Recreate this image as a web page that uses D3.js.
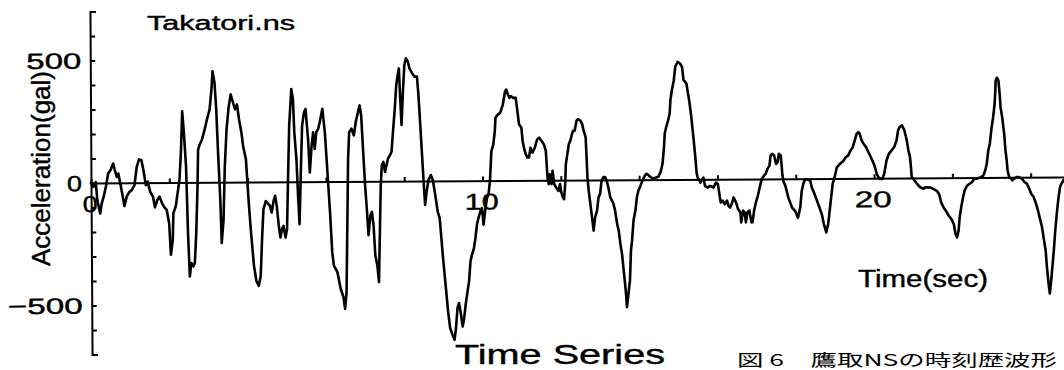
<!DOCTYPE html>
<html><head><meta charset="utf-8">
<script src="https://cdn.jsdelivr.net/npm/d3@7"></script>
<style>html,body{margin:0;padding:0;background:#fff;} svg{display:block;}</style>
</head><body>
<svg id="chart" width="1064" height="370"></svg>
<script>
// ---- data ----
const timeSec = [
0,0.06,0.12,0.16,0.23,0.27,0.32,0.38,0.44,0.50,
0.57,0.61,0.66,0.70,0.74,0.81,0.85,0.91,0.98,1.04,
1.11,1.17,1.23,1.29,1.34,1.40,1.45,1.51,1.58,1.63,
1.69,1.75,1.81,1.87,1.93,1.99,2.03,2.08,2.10,2.16,
2.21,2.26,2.30,2.34,2.38,2.43,2.47,2.51,2.55,2.60,
2.64,2.68,2.72,2.74,2.78,2.84,2.91,2.97,3.04,3.09,
3.12,3.17,3.21,3.25,3.30,3.33,3.38,3.42,3.47,3.53,
3.58,3.64,3.69,3.74,3.79,3.85,3.89,3.96,4.02,4.08,
4.15,4.21,4.27,4.32,4.36,4.40,4.46,4.53,4.57,4.61,
4.66,4.70,4.74,4.79,4.83,4.87,4.91,4.96,5.00,5.03,
5.07,5.13,5.17,5.20,5.25,5.29,5.32,5.36,5.40,5.45,
5.49,5.55,5.59,5.64,5.68,5.72,5.76,5.81,5.85,5.92,
5.98,6.02,6.06,6.10,6.15,6.19,6.28,6.36,6.43,6.47,
6.51,6.57,6.60,6.66,6.72,6.77,6.83,6.87,6.91,6.96,
7.00,7.04,7.08,7.13,7.17,7.21,7.25,7.30,7.34,7.36,
7.40,7.43,7.47,7.51,7.55,7.59,7.64,7.68,7.72,7.77,
7.81,7.85,7.88,7.91,7.94,7.98,8.02,8.06,8.11,8.15,
8.22,8.28,8.34,8.37,8.40,8.45,8.49,8.53,8.57,8.62,
8.68,8.73,8.79,8.85,8.90,8.94,8.98,9.04,9.10,9.15,
9.21,9.26,9.30,9.34,9.38,9.43,9.47,9.51,9.55,9.60,
9.64,9.68,9.72,9.77,9.81,9.85,9.89,9.94,9.98,10.02,
10.06,10.11,10.15,10.19,10.23,10.28,10.32,10.34,10.40,10.46,
10.53,10.59,10.62,10.66,10.70,10.74,10.79,10.86,10.89,10.94,
11.00,11.03,11.07,11.11,11.15,11.19,11.23,11.28,11.34,11.40,
11.45,11.51,11.57,11.62,11.64,11.66,11.69,11.72,11.76,11.79,
11.83,11.88,11.94,11.98,12.00,12.05,12.08,12.11,12.13,12.17,
12.21,12.25,12.29,12.32,12.36,12.41,12.45,12.51,12.55,12.59,
12.64,12.66,12.68,12.71,12.75,12.79,12.83,12.87,12.92,12.96,
13.00,13.04,13.09,13.13,13.17,13.21,13.26,13.30,13.34,13.38,
13.43,13.47,13.51,13.55,13.60,13.64,13.67,13.70,13.75,13.78,
13.81,13.85,13.90,13.94,13.98,14.02,14.07,14.11,14.15,14.19,
14.24,14.28,14.36,14.49,14.55,14.60,14.64,14.66,14.70,14.75,
14.79,14.81,14.85,14.90,14.94,15.00,15.06,15.11,15.15,15.22,
15.26,15.30,15.34,15.39,15.43,15.47,15.50,15.54,15.56,15.64,
15.68,15.75,15.81,15.90,15.96,16.01,16.04,16.08,16.13,16.18,
16.24,16.28,16.32,16.36,16.41,16.47,16.52,16.58,16.60,16.65,
16.69,16.72,16.76,16.81,16.86,16.89,16.93,16.98,17.03,17.09,
17.13,17.20,17.23,17.28,17.33,17.36,17.40,17.45,17.50,17.54,
17.57,17.62,17.66,17.69,17.73,17.81,17.90,17.98,18.05,18.11,
18.15,18.20,18.24,18.31,18.37,18.41,18.48,18.54,18.60,18.66,
18.71,18.77,18.82,18.86,18.90,18.94,18.99,19.05,19.13,19.22,
19.28,19.34,19.40,19.46,19.51,19.56,19.60,19.64,19.69,19.74,
19.80,19.84,19.90,19.96,20.01,20.07,20.11,20.15,20.21,20.26,
20.32,20.38,20.45,20.52,20.58,20.62,20.66,20.72,20.78,20.84,
20.88,20.92,20.95,20.96,21.00,21.09,21.17,21.26,21.30,21.43,
21.52,21.60,21.66,21.71,21.77,21.83,21.90,21.97,22.03,22.07,
22.11,22.15,22.18,22.22,22.27,22.31,22.37,22.43,22.50,22.56,
22.62,22.71,22.79,22.84,22.88,22.92,22.96,23.01,23.05,23.09,
23.11,23.12,23.15,23.19,23.22,23.24,23.28,23.33,23.36,23.39,
23.41,23.45,23.50,23.53,23.58,23.64,23.70,23.77,23.84,23.90,
23.96,24.01,24.07,24.13,24.18,24.24,24.28,24.33,24.37,24.40,
24.44,24.47,24.50,24.54,24.58,24.62,24.67,24.71,24.75,24.79,
24.84
];
const accelGal = [
0,-16,4,-71,-125,-84,-57,-16,38,52,
79,52,24,38,4,-57,-95,-57,-37,-30,
-10,65,95,93,52,-10,4,-37,-57,-101,
-71,-57,-84,-101,-112,-166,-295,-234,-125,-98,
-44,11,120,290,201,65,-207,-384,-329,-343,
-329,-207,-16,133,154,174,215,256,297,378,
453,405,297,120,-71,-248,-152,65,215,310,
358,324,297,317,256,201,147,93,-71,-207,
-343,-404,-424,-384,-234,-112,-78,-91,-98,-125,
-78,-57,-98,-180,-227,-193,-180,-227,-193,-3,
229,378,337,201,93,-71,-173,38,229,283,
297,174,38,147,201,133,201,215,242,297,
201,93,-16,-125,-288,-343,-370,-438,-472,-520,
-452,93,201,215,188,242,283,310,269,106,
-16,-112,-220,-139,-125,-180,-302,-343,-411,-275,
-16,65,79,38,65,93,106,120,201,297,
392,433,460,337,229,365,473,501,487,460,
439,426,426,365,283,133,11,-98,-44,4,
24,4,-57,-125,-152,-234,-316,-424,-533,-601,
-629,-649,-601,-520,-499,-547,-595,-561,-506,-452,
-411,-329,-302,-275,-234,-180,-152,-125,-112,-180,
-125,-71,-57,0,120,147,201,256,269,276,
310,365,371,351,337,344,337,337,297,229,
215,161,127,106,93,93,133,113,133,167,
174,161,147,120,65,11,-16,24,-16,38,
-16,-30,-44,-16,-44,-71,-78,-16,65,106,
147,161,188,201,201,242,249,242,229,201,
174,93,11,-44,-98,-152,-207,-152,-125,-71,
-57,-3,11,11,-3,-30,-71,-84,-98,-125,
-180,-207,-261,-302,-384,-452,-520,-479,-411,-288,
-248,-166,-125,-71,-44,-30,-10,4,18,24,
18,11,4,11,31,65,133,188,215,242,
269,324,365,405,460,480,473,460,405,392,
351,310,256,174,106,24,4,-3,-14,7,
-27,-34,-27,-34,-14,-20,-54,-95,-88,-102,
-88,-109,-116,-102,-75,-95,-122,-136,-177,-129,
-136,-177,-136,-129,-177,-177,-129,-95,-68,-27,
0,16,20,41,54,95,102,95,61,68,
102,95,14,-14,-27,-78,-118,-132,-159,-118,
-50,-16,-3,-3,-10,-37,-64,-91,-118,-146,
-186,-220,-186,-132,-78,-23,4,45,59,72,
86,93,113,127,154,181,188,181,154,140,
127,113,93,72,52,18,4,-3,-3,18,
72,99,113,127,154,195,208,215,195,154,
113,86,31,4,-3,-23,-37,-45,-38,-39,
-46,-53,-67,-101,-121,-135,-155,-169,-190,-230,
-244,-216,-162,-121,-80,-53,-33,-26,-19,-5,
-5,1,8,29,56,110,137,205,246,301,
355,396,407,396,341,287,246,178,110,69,
29,1,-5,-12,-5,1,1,-5,-19,-26,
-46,-67,-80,-107,-135,-176,-203,-257,-298,-366,
-434,-475,-434,-366,-298,-216,-135,-80,-39,-26,
-12
];
const yTickValues = [500, 0, -500];
const yTickLabels = ["500", "0", "\u2212500"];
const xTickValues = [0, 10, 20];
const xTickLabels = ["0", "10", "20"];
const chartTitle = "Takatori.ns";
const yAxisTitle = "Acceleration(gal)";
const xAxisTitle = "Time(sec)";
const bottomTitle = "Time Series";
const captionText = "図 6　鷹取NSの時刻歴波形";

// ---- layout ----
const svg = d3.select("#chart");
const FONT = "'Liberation Sans', Arial, Helvetica, sans-serif";
const x = d3.scaleLinear().domain([0, 24.85]).range([91, 1064]);
const y = d3.scaleLinear().domain([-700, 700]).range([354.5, 11.5]);

// the scanned plot is tilted slightly
const plot = svg.append("g").attr("transform", "rotate(-0.35 91 183)");

// y axis (bracket ends via outer ticks)
const yAxis = d3.axisRight(y).tickValues(d3.range(-700, 701, 100)).tickSize(5).tickSizeOuter(6).tickFormat("");
plot.append("g").attr("transform", "translate(91,0)").call(yAxis)
  .call(g => g.selectAll("path,line").attr("stroke", "#000").attr("stroke-width", 2));

// zero line with small upward ticks every 2 s
const xAxis = d3.axisTop(x).tickValues(d3.range(0, 25, 2)).tickSize(4).tickSizeOuter(0).tickFormat("");
plot.append("g").attr("transform", `translate(0,${y(0)})`).call(xAxis)
  .call(g => g.selectAll("path,line").attr("stroke", "#000").attr("stroke-width", 2));

const textStyle = sel => sel.attr("fill", "#000").attr("stroke", "#000").attr("stroke-width", 0.4);

// y tick labels
const yLabelWidths = {"500": 55, "0": 15, "\u2212500": 75};
plot.append("g").selectAll("text").data(yTickValues).join("text")
  .attr("x", 82).attr("y", d => y(d) + 8)
  .attr("text-anchor", "end")
  .attr("font-family", FONT).attr("font-size", 22)
  .attr("textLength", (d, i) => yLabelWidths[yTickLabels[i]])
  .attr("lengthAdjust", "spacingAndGlyphs")
  .call(textStyle)
  .text((d, i) => yTickLabels[i]);

// x tick labels
const xLabelWidths = {"0": 15, "10": 34, "20": 37};
plot.append("g").selectAll("text").data(xTickValues).join("text")
  .attr("x", d => x(d) - 1).attr("y", y(0) + 29)
  .attr("text-anchor", "middle")
  .attr("font-family", FONT).attr("font-size", 23)
  .attr("textLength", (d, i) => xLabelWidths[xTickLabels[i]])
  .attr("lengthAdjust", "spacingAndGlyphs")
  .call(textStyle)
  .text((d, i) => xTickLabels[i]);

// waveform
const samples = d3.zip(timeSec, accelGal);
plot.append("path").datum(samples)
  .attr("fill", "none").attr("stroke", "#000").attr("stroke-width", 2.6)
  .attr("stroke-linejoin", "round").attr("stroke-linecap", "round")
  .attr("d", d3.line().x(d => x(d[0])).y(d => y(d[1])));

// titles
svg.append("text").attr("x", 147).attr("y", 30)
  .attr("font-family", FONT).attr("font-size", 20)
  .attr("textLength", 148).attr("lengthAdjust", "spacingAndGlyphs")
  .call(textStyle).text(chartTitle);

svg.append("text").attr("transform", "translate(50,266) rotate(-90)")
  .attr("font-family", FONT).attr("font-size", 25)
  .attr("textLength", 195).attr("lengthAdjust", "spacingAndGlyphs")
  .call(textStyle).text(yAxisTitle);

svg.append("text").attr("x", 858).attr("y", 287)
  .attr("font-family", FONT).attr("font-size", 23)
  .attr("textLength", 130).attr("lengthAdjust", "spacingAndGlyphs")
  .call(textStyle).text(xAxisTitle);

svg.append("text").attr("x", 455).attr("y", 364)
  .attr("font-family", FONT).attr("font-size", 27)
  .attr("textLength", 210).attr("lengthAdjust", "spacingAndGlyphs")
  .call(textStyle).text(bottomTitle);

svg.append("text").attr("x", 737).attr("y", 366)
  .attr("font-family", "'Noto Sans CJK JP', sans-serif").attr("font-size", 16)
  .attr("textLength", 320).attr("lengthAdjust", "spacingAndGlyphs")
  .attr("fill", "#000")
  .text(captionText);
</script>
</body></html>
